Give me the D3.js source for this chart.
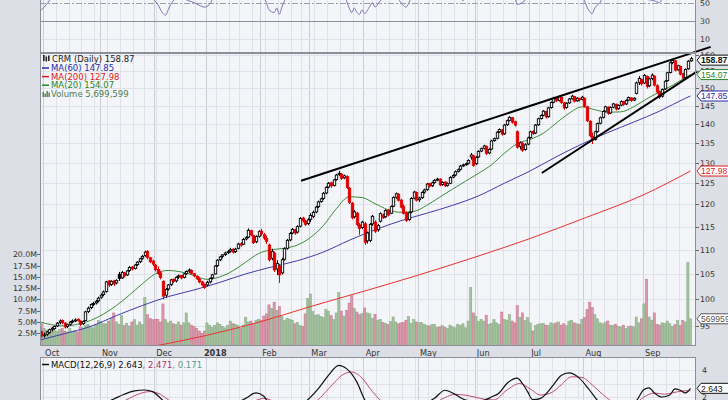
<!DOCTYPE html>
<html>
<head>
<meta charset="utf-8">
<script src="https://cdn.jsdelivr.net/npm/d3@7"></script>
<style>
  body { margin: 0; background: #dcdfe6; }
  svg { display: block; font-family: "DejaVu Sans", Verdana, sans-serif; }
</style>
</head>
<body>
<svg id="chart" width="728" height="400"></svg>
<script>
// daily bars [open, high, low, close, volume in millions], one array per month
const sep17 = [[94.6,94.8,93.6,93.9,4.8],[93.9,94.1,92.9,93.2,4.6]];
const oct17 = [[93.3,93.8,92.9,93.4,3.6],[93.5,94.1,93.2,93.9,3.2],[93.8,94.5,93.6,94.3,3.0],[94.4,94.8,94.0,94.6,3.4],
  [94.5,95.1,94.3,94.9,3.1],[95.0,95.7,94.8,95.5,2.9],[95.6,96.2,95.3,95.9,3.3],[96.0,96.2,95.3,95.6,3.6],
  [95.5,95.7,94.5,94.8,3.0],[94.9,95.4,94.6,95.2,2.8],[95.3,95.9,95.0,95.7,3.5],[95.8,96.2,95.5,95.9,2.9],
  [95.9,96.4,95.7,96.1,3.1],[96.2,96.4,95.8,96.0,2.8],[95.9,96.0,95.0,95.3,3.9],[95.4,96.0,95.2,95.8,3.7],
  [96.0,97.8,95.9,97.6,4.2],[97.7,98.6,97.4,98.3,4.5],[98.4,99.2,98.1,99.0,4.1],[99.0,99.5,98.7,99.2,3.7],
  [99.3,99.9,99.0,99.6,4.3],[99.7,100.5,99.4,100.2,5.3]];
const nov17 = [[100.4,101.1,100.1,100.8,5.0],[100.9,101.7,100.6,101.4,4.6],[101.5,103.6,101.3,103.4,4.6],
  [103.6,103.8,102.4,102.8,5.2],[102.9,103.7,102.6,103.5,5.8],[103.6,103.8,102.6,103.0,7.0],[103.2,103.9,102.9,103.7,5.0],
  [104.9,105.4,103.6,104.1,4.5],[104.2,105.6,104.0,105.3,6.4],[105.2,105.4,104.3,104.6,4.2],[104.8,105.8,104.6,105.6,4.7],
  [105.7,106.6,105.4,106.3,4.1],[106.4,106.6,105.7,106.0,5.0],[106.1,107.0,105.9,106.8,5.5],[106.9,107.6,106.6,107.4,4.3],
  [107.5,108.3,107.2,108.1,5.0],[108.2,108.9,107.9,108.6,4.4],[108.8,109.8,108.5,109.5,10.4],[109.6,109.9,108.0,108.4,6.6],
  [108.3,108.5,107.2,107.5,5.8],[107.6,107.9,106.6,107.0,5.5]];
const dec17 = [[106.8,107.0,105.5,105.9,5.6],[105.9,106.5,104.8,105.1,5.6],[105.2,105.6,103.9,104.3,5.0],
  [103.5,103.7,100.0,100.6,9.0],[100.8,102.2,100.3,101.9,5.5],[102.0,103.0,101.7,102.8,4.8],[102.9,104.0,102.6,103.8,5.2],
  [103.9,104.1,103.2,103.5,4.6],[103.6,104.5,103.3,104.3,4.5],[104.4,104.9,104.0,104.6,5.0],[104.7,104.8,103.9,104.2,4.3],
  [104.3,105.2,104.1,105.0,4.8],[105.1,105.7,104.8,105.5,7.0],[105.6,106.1,105.2,105.8,4.8],[105.7,105.9,104.9,105.1,4.3],
  [105.0,105.2,104.3,104.6,4.0],[104.5,104.7,103.8,104.0,3.6],[104.0,104.2,103.1,103.4,3.0],[103.4,103.6,102.5,102.8,2.5],
  [102.9,103.1,102.0,102.3,3.0]];
const jan18 = [[102.8,103.6,102.5,103.3,4.8],[103.4,104.3,103.1,104.1,4.3],[104.2,105.0,103.9,104.8,3.8],
  [105.0,106.8,104.9,106.6,4.2],[106.7,108.0,106.4,107.8,4.8],[107.9,108.7,107.6,108.5,4.5],[108.6,109.1,108.2,108.9,4.0],
  [109.0,109.6,108.7,109.3,3.7],[109.4,109.9,109.1,109.6,4.2],[109.7,110.4,109.4,110.0,5.2],[110.1,110.3,109.2,109.5,4.6],
  [109.6,110.4,109.3,110.1,4.5],[110.3,111.5,110.1,111.2,4.2],[111.3,111.6,110.6,111.0,3.6],[111.2,112.5,111.0,112.2,4.3],
  [112.3,112.9,112.0,112.6,6.0],[112.7,114.6,112.5,114.2,5.0],[114.1,114.3,112.9,113.2,5.2],[113.0,113.2,111.2,111.5,4.6],
  [111.7,113.1,111.4,112.8,5.4],[112.9,114.2,112.6,113.9,5.6]];
const feb18 = [[114.0,114.5,113.0,113.4,5.4],[113.2,113.6,112.1,112.5,6.3],[112.4,113.0,111.2,111.8,6.8],
  [111.0,111.3,107.5,107.9,8.8],[108.2,110.2,107.8,109.6,8.0],[109.3,109.6,105.4,105.8,9.4],[106.0,107.8,104.8,107.1,7.6],
  [106.6,107.0,103.2,104.8,8.4],[105.2,108.3,104.9,107.9,6.2],[108.0,110.5,107.7,110.2,5.3],[110.3,112.3,110.0,112.0,5.8],
  [112.1,113.8,111.8,113.5,5.6],[113.6,114.7,113.3,114.4,5.4],[114.3,114.5,113.2,113.6,4.6],[113.8,115.3,113.5,115.0,4.9],
  [115.1,117.1,114.8,116.8,4.2],[116.9,117.2,115.9,116.3,4.0],[116.2,116.5,115.1,115.5,6.8],[115.7,116.9,115.3,116.5,10.2]];
const mar18 = [[116.6,118.0,116.0,117.5,11.2],[117.3,118.6,116.9,118.2,7.3],[118.3,119.7,118.0,119.4,6.5],
  [119.5,120.9,119.2,120.6,6.6],[120.7,121.6,120.4,121.3,6.2],[121.4,122.9,121.1,122.6,6.0],[122.7,124.3,122.4,124.0,7.8],
  [124.1,125.3,123.8,125.0,7.4],[125.1,125.4,123.9,124.4,6.4],[124.5,126.1,124.2,125.8,5.5],[125.9,127.3,125.6,127.0,7.0],
  [127.1,128.0,126.8,127.4,11.5],[127.2,127.5,125.8,126.2,7.4],[126.3,127.1,126.0,126.8,6.3],[126.6,126.9,123.6,124.0,7.6],
  [123.8,124.1,120.1,120.5,9.2],[120.3,120.6,116.6,117.0,10.8],[117.2,118.7,116.8,118.3,8.0],[118.0,118.3,115.1,115.5,7.2],
  [115.4,115.8,113.2,114.6,6.6],[114.8,116.3,114.5,116.0,6.9]];
const apr18 = [[115.6,116.0,111.0,111.6,8.1],[111.9,113.9,111.3,113.6,7.0],[112.0,115.8,111.6,115.5,6.8],
  [115.6,117.6,115.2,117.3,5.8],[116.0,116.4,113.6,114.0,6.7],[114.3,115.6,113.9,115.2,5.4],[116.2,118.2,115.9,117.9,5.6],
  [117.6,117.9,116.7,117.0,4.9],[117.2,118.9,116.9,118.6,4.7],[118.7,118.9,117.3,117.6,4.4],[118.0,119.8,117.8,119.5,5.1],
  [119.6,121.9,119.4,121.6,6.1],[121.7,122.8,121.3,122.5,5.0],[122.4,122.6,120.7,121.0,4.6],[121.0,121.3,119.1,119.4,4.8],
  [119.6,120.0,117.7,118.0,4.9],[118.1,118.4,116.0,116.4,5.4],[116.6,118.4,116.3,118.1,6.2],[118.3,121.7,118.0,121.4,4.7],
  [121.5,123.2,121.2,122.9,5.5],[122.8,123.0,120.7,121.0,5.0]];
const may18 = [[121.1,121.8,120.6,121.5,4.8],[121.6,123.1,121.3,122.8,4.9],[122.9,123.7,122.5,123.4,4.5],
  [123.5,125.1,123.2,124.8,4.2],[124.9,125.1,124.0,124.3,4.1],[124.4,125.4,124.1,125.1,4.4],[125.2,126.0,124.9,125.7,4.5],
  [125.8,126.3,125.5,126.0,3.8],[126.0,126.2,124.3,124.6,3.9],[124.7,125.5,124.4,125.2,4.2],[125.3,125.5,124.1,124.4,3.8],
  [124.5,125.2,124.2,124.9,3.6],[125.0,126.7,124.8,126.4,4.3],[126.5,127.2,126.2,126.9,3.9],[127.0,128.1,126.7,127.8,3.7],
  [127.9,128.6,127.6,128.3,4.5],[128.4,129.5,128.1,129.2,4.2],[129.3,129.8,129.0,129.5,4.6],[129.6,130.1,129.3,129.8,3.7],
  [129.9,130.9,129.6,130.6,5.2],[131.5,132.5,130.8,132.0,12.6],[131.8,132.0,129.0,129.4,7.0]];
const jun18 = [[129.8,131.7,129.5,131.4,6.2],[131.5,133.2,131.2,132.9,5.1],[133.0,133.9,132.7,133.6,5.6],
  [133.7,134.6,133.4,134.3,5.2],[134.2,134.4,132.0,132.4,6.5],[132.5,133.7,132.2,133.4,4.5],[133.5,135.9,133.3,135.6,4.7],
  [135.7,136.5,135.4,136.2,5.5],[136.3,138.2,136.0,137.9,4.8],[138.0,138.9,137.7,138.6,4.5],[138.5,138.7,137.0,137.4,7.2],
  [137.5,140.1,137.2,139.8,5.6],[139.9,141.3,139.6,141.0,5.4],[141.1,142.2,140.8,141.9,6.6],[141.8,142.0,140.2,140.6,5.2],
  [140.7,141.0,139.4,139.8,4.8],[138.0,138.4,133.6,134.0,8.6],[134.2,135.5,133.4,135.1,6.0],[135.0,135.3,132.8,133.2,7.0],
  [133.4,135.0,133.1,134.6,5.3],[134.8,136.7,134.5,136.4,6.0]];
const jul18 = [[136.5,138.3,136.2,138.0,4.8],[138.1,138.4,137.2,137.6,3.0],[137.7,140.1,137.4,139.8,4.2],
  [139.9,141.8,139.6,141.5,4.5],[141.6,142.7,141.3,142.4,4.6],[142.5,143.9,142.2,143.6,4.7],[143.5,143.7,141.6,142.0,4.3],
  [142.1,144.8,141.8,144.5,4.2],[144.6,146.3,144.3,146.0,4.8],[146.1,147.6,145.8,147.2,4.6],[147.3,147.5,146.1,146.5,4.8],
  [146.6,148.0,146.3,147.6,5.0],[147.5,147.7,145.6,146.0,4.3],[145.9,146.2,144.0,144.5,4.6],[144.6,146.1,144.3,145.8,4.2],
  [145.9,147.3,145.6,147.0,5.2],[147.1,148.2,146.8,147.8,5.4],[147.7,147.9,146.0,146.4,4.8],[146.5,147.5,146.2,147.2,4.6],
  [147.1,147.4,146.3,146.8,4.5],[146.9,147.9,146.6,147.5,5.6]];
const aug18 = [[147.2,147.4,144.6,145.0,6.0],[144.8,145.1,140.6,141.0,7.8],[140.8,141.1,136.6,137.0,9.4],
  [136.8,137.8,134.8,135.8,8.2],[136.0,138.3,135.7,138.0,6.6],[138.1,140.5,137.8,140.2,5.7],[140.3,142.1,140.0,141.8,4.8],
  [141.9,143.8,141.6,143.5,4.6],[143.6,145.1,143.3,144.8,4.9],[144.7,144.9,142.6,143.0,5.2],[143.1,144.9,142.8,144.6,4.3],
  [144.7,145.9,144.4,145.6,4.2],[145.5,145.7,143.8,144.2,4.5],[144.3,145.5,144.0,145.2,4.0],[145.3,146.6,145.0,146.3,3.9],
  [146.2,146.4,145.1,145.5,4.3],[145.6,146.9,145.3,146.6,3.5],[146.7,147.7,146.4,147.4,4.0],[147.3,147.5,146.2,146.6,4.1],
  [146.7,147.5,146.4,147.2,3.9],[148.6,152.0,148.3,151.6,6.1],[151.8,153.6,151.0,152.9,4.8],[152.6,152.9,150.8,151.4,5.7]];
const sep18 = [[151.6,154.2,151.3,153.8,9.0],[153.5,153.8,150.0,150.6,14.5],[150.8,153.2,150.4,152.8,6.1],
  [152.9,154.4,152.4,153.9,5.4],[153.6,153.8,150.6,151.0,7.0],[150.8,151.2,148.6,149.0,4.5],[148.8,149.4,147.0,147.6,4.3],
  [147.8,150.0,147.4,149.7,4.8],[149.9,152.4,149.6,152.1,4.7],[152.3,154.9,152.0,154.6,5.2],[154.7,158.0,154.4,157.6,4.6],
  [157.7,158.7,157.2,158.3,4.0],[158.2,158.4,155.0,155.4,4.4],[155.5,157.0,155.2,156.7,5.4],[156.5,156.7,153.8,154.2,4.2],
  [154.3,154.6,152.6,153.0,5.3],[153.2,155.9,152.9,155.6,5.0],[155.8,158.4,155.5,158.1,18.2],[158.2,159.4,157.9,158.87,5.7]];

// market holidays inside the range (no bar)
const holidays = ["2017-11-23","2017-12-25","2018-01-01","2018-01-15","2018-02-19","2018-03-30","2018-05-28","2018-07-04","2018-09-03"];

// indicator readings as [session, value]; session 0 = 2 Oct 2017
const ma20 = [[-2,95.8],[3,95.2],[8,95.0],[13,95.3],[18,96.0],[23,97.2],[28,98.8],[33,100.8],[38,103.0],[43,105.0],
  [48,105.7],[53,105.4],[58,104.7],[63,103.9],[68,104.4],[73,105.6],[78,107.4],[83,109.2],[88,110.0],[93,110.3],
  [98,111.0],[103,112.6],[108,115.2],[113,119.0],[118,121.8],[123,121.6],[128,120.2],[133,118.8],[138,118.2],[143,118.4],
  [148,119.8],[153,121.7],[158,123.6],[163,125.5],[168,127.4],[173,129.5],[178,132.4],[183,134.9],[188,136.0],[193,137.6],
  [198,140.3],[203,143.0],[208,144.8],[213,144.0],[218,143.3],[223,143.4],[228,144.8],[233,147.0],[238,149.0],[243,150.9],
  [248,153.2],[250,154.07]];
const ma60 = [[-2,92.4],[8,93.6],[18,94.9],[28,96.9],[38,98.8],[48,100.5],[58,101.8],[68,103.3],[78,105.0],[88,106.4],
  [98,107.7],[108,109.5],[118,112.0],[128,114.3],[138,116.3],[148,118.0],[158,119.8],[168,122.0],[178,125.0],[188,128.0],
  [198,131.5],[208,134.8],[218,137.8],[228,140.6],[238,143.6],[248,147.2],[250,147.85]];
const ma200 = [[-2,88.0],[22,89.6],[43,91.4],[63,93.3],[84,95.8],[103,98.6],[124,101.6],[145,104.8],[167,108.5],
  [188,112.4],[209,116.9],[232,122.3],[250,127.98]];
const rsi = [[-2,40],[-1,42],[1,48],[2,52],[4,60],[20,70],[40,62],[42,55],[44,48],[46,38],[47,36],[48,42],[49,48],[50,52],
  [52,56],[56,52],[58,50],[60,47],[62,45],[64,48],[66,58],[70,68],[84,58],[86,50],[87,42],[89,39],[90,44],[91,37],[92,45],
  [93,52],[95,58],[100,62],[110,72],[114,68],[116,60],[117,52],[118,44],[119,39],[120,44],[121,39],[122,37],[123,42],[124,38],
  [126,46],[127,50],[128,45],[129,48],[130,52],[132,55],[135,58],[137,54],[138,50],[139,47],[140,45],[141,49],[142,55],[150,62],
  [160,60],[162,52],[163,58],[170,65],[180,70],[182,58],[183,48],[185,50],[187,55],[200,66],[205,60],[208,58],[209,52],
  [210,45],[211,40],[212,38],[213,44],[215,50],[216,55],[220,62],[232,60],[233,54],[236,52],[238,50],[239,54],[242,65],[250,66]];
const macd = [[-2,-0.2],[5,0.3],[12,0.6],[18,1.1],[24,1.6],[27,1.85],[31,2.2],[35,2.45],[39,2.52],[42,2.4],[46,1.75],
  [50,1.2],[56,0.9],[62,0.5],[68,0.9],[74,1.5],[78,1.9],[82,2.3],[85,2.05],[88,1.2],[92,0.7],[97,1.2],[102,1.8],[106,2.6],
  [110,3.6],[114,4.35],[117,4.1],[121,3.1],[124,1.8],[128,0.8],[134,0.5],[140,0.9],[146,1.4],[151,1.9],[155,2.5],[158,2.3],
  [162,1.85],[166,1.7],[170,1.75],[173,2.0],[176,2.3],[179,3.0],[183,3.4],[185,3.0],[187,2.4],[189,1.8],[192,1.9],[194,2.2],
  [197,2.9],[200,3.6],[203,3.78],[207,3.4],[211,2.5],[214,1.75],[218,1.0],[222,0.9],[226,1.3],[229,1.7],[232,2.55],
  [234,2.67],[236,2.3],[239,2.0],[242,2.15],[244,2.6],[246,2.5],[248,2.3],[250,2.643]];
const signal = [[-2,-0.3],[10,0.2],[20,0.8],[28,1.4],[33,1.9],[37,2.25],[41,2.4],[45,2.2],[48,1.8],[54,1.2],[62,0.8],
  [72,1.0],[80,1.6],[85,1.9],[90,1.6],[98,1.2],[106,1.8],[110,2.6],[116,3.7],[119,3.85],[123,3.4],[127,2.4],[133,1.3],
  [142,0.8],[150,1.4],[155,1.95],[159,2.2],[164,2.1],[170,1.85],[174,1.78],[179,2.52],[184,3.0],[188,2.6],[192,2.15],
  [196,2.3],[200,2.9],[204,3.5],[208,3.45],[212,2.9],[216,2.2],[222,1.5],[228,1.5],[232,2.0],[236,2.3],[240,2.2],
  [243,2.3],[247,2.45],[250,2.471]];

// hand-drawn wedge lines: [session, price] end points
const upperTrend = [[99.4,125.6],[257.8,162.5]];
const lowerTrend = [[192.5,127.5],[252.6,155.0]];

const priceTicks = d3.range(95, 161, 5);
const volTicks = [2.5, 5, 7.5, 10, 12.5, 15, 17.5, 20];
const rsiTicks = [10, 30, 50];
const macdTicks = [2, 4];

// ---------- layout ----------
const L = 40, R = 696;
const panels = {
  rsi:  {top: -40, bottom: 53},
  main: {top: 53, bottom: 346},
  macd: {top: 357, bottom: 440}
};
const bg = "#f4f5f9", gridC = "#dfe2e9", monthC = "#c9cdd6", frame = "#8a8f99";
const axisFont = 7.8;

const svg = d3.select("#chart");

// trading calendar
const fmt = d3.timeFormat("%Y-%m-%d");
const days = [];
for (let t = new Date(2017, 8, 28); t <= new Date(2018, 8, 28); t.setDate(t.getDate() + 1)) {
  const dow = t.getDay();
  if (dow > 0 && dow < 6 && !holidays.includes(fmt(t))) days.push(new Date(t));
}

const bars = [].concat(sep17, oct17, nov17, dec17, jan18, feb18, mar18, apr18, may18, jun18, jul18, aug18, sep18)
  .map((d, k) => ({i: k - 2, date: days[k], o: d[0], h: d[1], l: d[2], c: d[3], v: d[4]}));
bars.forEach((d, k) => {
  const prev = k > 0 ? bars[k - 1].c : d.o;
  d.down = d.c < prev;
  d.hollow = d.c >= d.o;
});

const x = d3.scaleLinear().domain([-2, 250]).range([38.83, 690.5]);
const y = d3.scaleLog().domain([91.4, 160.6]).range([panels.main.bottom, panels.main.top]);
const yv = d3.scaleLinear().domain([0, 20]).range([344.5, 254.3]);
const yr = d3.scaleLinear().domain([30, 50]).range([20.6, 2.6]);
const ym = d3.scaleLinear().domain([2, 4]).range([397, 370]);

// month starts and week starts
const months = [], weeks = [];
for (let k = 1; k < days.length; k++) {
  if (days[k].getMonth() !== days[k - 1].getMonth()) months.push({i: k - 2, date: days[k]});
  if (days[k].getDay() < days[k - 1].getDay()) weeks.push(k - 2);
}

// clip paths
const defs = svg.append("defs");
Object.entries(panels).forEach(([name, p]) => {
  defs.append("clipPath").attr("id", "clip-" + name)
    .append("rect").attr("x", L).attr("y", p.top).attr("width", R - L).attr("height", p.bottom - p.top);
});

// panel backgrounds and vertical grid
Object.entries(panels).forEach(([name, p]) => {
  svg.append("rect").attr("x", L).attr("y", p.top).attr("width", R - L).attr("height", p.bottom - p.top)
    .attr("fill", bg);
  const g = svg.append("g").attr("clip-path", `url(#clip-${name})`);
  g.selectAll(".wk").data(weeks).join("line")
    .attr("x1", d => Math.round(x(d - 0.5)) + 0.5).attr("x2", d => Math.round(x(d - 0.5)) + 0.5)
    .attr("y1", p.top).attr("y2", p.bottom).attr("stroke", gridC).attr("stroke-width", 1);
  g.selectAll(".mo").data(months).join("line")
    .attr("x1", d => Math.round(x(d.i - 0.5)) + 0.5).attr("x2", d => Math.round(x(d.i - 0.5)) + 0.5)
    .attr("y1", p.top).attr("y2", p.bottom).attr("stroke", monthC).attr("stroke-width", 1);
});

// ---------- RSI panel (mostly above the window) ----------
const rsiG = svg.append("g").attr("clip-path", "url(#clip-rsi)");
rsiG.append("line").attr("x1", L).attr("x2", R).attr("y1", Math.round(yr(10)) + 0.5).attr("y2", Math.round(yr(10)) + 0.5)
  .attr("stroke", gridC);
rsiG.append("line").attr("x1", L).attr("x2", R).attr("y1", Math.round(yr(30)) + 0.5).attr("y2", Math.round(yr(30)) + 0.5)
  .attr("stroke", "#8c9099");
rsiG.append("line").attr("x1", L).attr("x2", R).attr("y1", Math.round(yr(50)) + 0.5).attr("y2", Math.round(yr(50)) + 0.5)
  .attr("stroke", "#9aa0aa").attr("stroke-dasharray", "6,2,2,2");
rsiG.append("path").datum(rsi)
  .attr("fill", "none").attr("stroke", "#6f78b4").attr("stroke-width", 1)
  .attr("d", d3.line().x(d => x(d[0])).y(d => yr(d[1])).curve(d3.curveMonotoneX));
svg.selectAll(".rsiT").data(rsiTicks).join("text")
  .attr("x", 700).attr("y", d => yr(d) + 3).attr("font-size", axisFont).attr("fill", "#333").text(d => d);

// ---------- main panel ----------
const mainG = svg.append("g").attr("clip-path", "url(#clip-main)");
mainG.selectAll(".hg").data(priceTicks).join("line")
  .attr("x1", L).attr("x2", R)
  .attr("y1", d => Math.round(y(d)) + 0.5).attr("y2", d => Math.round(y(d)) + 0.5)
  .attr("stroke", gridC);

// volume overlay
mainG.selectAll(".vol").data(bars).join("rect")
  .attr("x", d => x(d.i) - 1.1).attr("width", 2.2)
  .attr("y", d => yv(d.v)).attr("height", d => yv(0) - yv(d.v) + 2)
  .attr("fill", d => d.down ? "#d899ab" : "#a3c29d")
  .attr("stroke", d => d.down ? "#c27189" : "#84a67f").attr("stroke-width", 0.5);

// moving averages
const maLine = d3.line().x(d => x(d[0])).y(d => y(d[1])).curve(d3.curveMonotoneX);
[[ma200, "#e8322c"], [ma60, "#3c3cae"], [ma20, "#3a8c3a"]].forEach(([data, col]) => {
  mainG.append("path").datum(data).attr("fill", "none").attr("stroke", col).attr("stroke-width", 1).attr("d", maLine);
});

// candles
const cx = d => Math.round(x(d.i)) + 0.5;
mainG.selectAll(".wick").data(bars).join("line")
  .attr("x1", cx).attr("x2", cx).attr("y1", d => y(d.h)).attr("y2", d => y(d.l))
  .attr("stroke", d => d.down ? "#e00000" : "#000").attr("stroke-width", 1);
mainG.selectAll(".body").data(bars).join("rect")
  .attr("x", d => cx(d) - 1.2).attr("width", 2.4)
  .attr("y", d => y(Math.max(d.o, d.c))).attr("height", d => Math.max(1, Math.abs(y(d.o) - y(d.c))))
  .attr("fill", d => d.hollow ? bg : (d.down ? "#e00000" : "#000"))
  .attr("stroke", d => d.down ? "#e00000" : "#000").attr("stroke-width", 0.9);

// wedge trend lines (drawn over the axis edge like the original)
[upperTrend, lowerTrend].forEach(t => {
  svg.append("line").attr("x1", x(t[0][0])).attr("y1", y(t[0][1])).attr("x2", x(t[1][0])).attr("y2", y(t[1][1]))
    .attr("stroke", "#000").attr("stroke-width", 2);
});

// right price axis
svg.selectAll(".pt").data(priceTicks).join("text")
  .attr("x", 700).attr("y", d => y(d) + 3).attr("font-size", axisFont).attr("fill", "#333").text(d => d);
svg.selectAll(".ptk").data(priceTicks).join("line")
  .attr("x1", R).attr("x2", R + 3).attr("y1", d => Math.round(y(d)) + 0.5).attr("y2", d => Math.round(y(d)) + 0.5)
  .attr("stroke", "#666");

// left volume axis
svg.selectAll(".vt").data(volTicks).join("text")
  .attr("x", 37).attr("y", d => yv(d) + 3).attr("font-size", axisFont).attr("fill", "#333")
  .attr("text-anchor", "end").text(d => d.toFixed(1) + "M");
svg.selectAll(".vtk").data(volTicks).join("line")
  .attr("x1", 37).attr("x2", L).attr("y1", d => Math.round(yv(d)) + 0.5).attr("y2", d => Math.round(yv(d)) + 0.5)
  .attr("stroke", "#666");

// legend
const lg = svg.append("g").attr("font-size", 8.5);
lg.append("rect").attr("x", 43).attr("y", 55).attr("width", 1.6).attr("height", 6).attr("fill", "#222");
lg.append("rect").attr("x", 45.5).attr("y", 56.5).attr("width", 1.6).attr("height", 5).attr("fill", "#222");
lg.append("rect").attr("x", 48).attr("y", 55.5).attr("width", 1.6).attr("height", 5.5).attr("fill", "#222");
lg.append("text").attr("x", 52).attr("y", 62).attr("fill", "#222").text("CRM (Daily) 158.87");
const legendRows = [
  ["MA(60) 147.85", "#2b2ba6"], ["MA(200) 127.98", "#e02020"], ["MA(20) 154.07", "#2a862a"]
];
legendRows.forEach(([t, col], k) => {
  const yy = 71 + k * 8.6;
  lg.append("line").attr("x1", 42).attr("x2", 49).attr("y1", yy - 3).attr("y2", yy - 3).attr("stroke", col).attr("stroke-width", 1.5);
  lg.append("text").attr("x", 51).attr("y", yy).attr("fill", col).text(t);
});
[[42.5, 5], [44.5, 3.5], [46.5, 6], [48.5, 4.5]].forEach(([bx, bh]) => {
  lg.append("rect").attr("x", bx).attr("y", 97 - bh).attr("width", 1.4).attr("height", bh).attr("fill", "#4f7d4f");
});
lg.append("text").attr("x", 51).attr("y", 97).attr("fill", "#4f7d4f").text("Volume 5,699,599");

// ---------- x axis labels ----------
svg.selectAll(".ml").data(months).join("text")
  .attr("x", d => d.date.getMonth() === 0 ? x(d.i) - 3 : x(d.i) + 1)
  .attr("y", 355.5).attr("font-size", 8.2)
  .attr("font-weight", d => d.date.getMonth() === 0 ? "bold" : null)
  .attr("fill", "#333")
  .text(d => d.date.getMonth() === 0 ? d3.timeFormat("%Y")(d.date) : d3.timeFormat("%b")(d.date));

// ---------- MACD panel ----------
const macdG = svg.append("g").attr("clip-path", "url(#clip-macd)");
macdG.selectAll(".mg").data([2, 3, 4]).join("line")
  .attr("x1", L).attr("x2", R).attr("y1", d => Math.round(ym(d)) + 0.5).attr("y2", d => Math.round(ym(d)) + 0.5)
  .attr("stroke", gridC);
const mLine = d3.line().x(d => x(d[0])).y(d => ym(d[1])).curve(d3.curveMonotoneX);
macdG.append("path").datum(signal).attr("fill", "none").attr("stroke", "#c24a72").attr("stroke-width", 1).attr("d", mLine);
macdG.append("path").datum(macd).attr("fill", "none").attr("stroke", "#111").attr("stroke-width", 1.2).attr("d", mLine);
svg.selectAll(".mt").data(macdTicks).join("text")
  .attr("x", 702).attr("y", d => ym(d) + 3).attr("font-size", axisFont).attr("fill", "#333").text(d => d);

const ml = svg.append("g").attr("font-size", 8.5);
ml.append("line").attr("x1", 42).attr("x2", 49).attr("y1", 364.5).attr("y2", 364.5).attr("stroke", "#111").attr("stroke-width", 1.5);
const mt = ml.append("text").attr("x", 51).attr("y", 367.5);
mt.append("tspan").attr("fill", "#111").text("MACD(12,26,9) 2.643");
mt.append("tspan").attr("fill", "#b0305a").text(", 2.471");
mt.append("tspan").attr("fill", "#5b9a88").text(", 0.171");

// panel frames
Object.values(panels).forEach(p => {
  svg.append("rect").attr("x", L + 0.5).attr("y", p.top + 0.5).attr("width", R - L - 1).attr("height", p.bottom - p.top - 1)
    .attr("fill", "none").attr("stroke", frame);
});

// ---------- value tags on the right ----------
function tag(yy, text, col, bold) {
  const g = svg.append("g").attr("transform", `translate(697,${yy})`);
  g.append("path").attr("d", "M0,0 L4,-5 H45 V5 H4 Z").attr("fill", "#fff").attr("stroke", col).attr("stroke-width", 1);
  g.append("text").attr("x", 4).attr("y", 3.3).attr("font-size", 8.6).attr("fill", col)
    .attr("font-family", "'Liberation Sans', Arial, sans-serif")
    .attr("font-weight", bold ? "bold" : null).text(text);
}
const last = bars[bars.length - 1];
tag(y(ma200[ma200.length - 1][1]), "127.98", "#e02020");
tag(y(ma60[ma60.length - 1][1]), "147.85", "#2b2ba6");
tag(y(ma20[ma20.length - 1][1]), "154.07", "#2a862a");
tag(y(last.c) + 1.5, "158.87", "#111", true);
tag(yv(last.v), "5699599", "#555");
tag(ym(2.643), "2.643", "#111");
</script>
</body>
</html>
